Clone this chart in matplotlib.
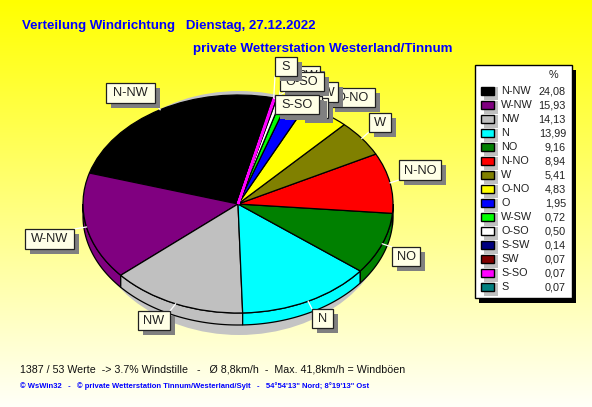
import numpy as np
import matplotlib
matplotlib.use('Agg')
import matplotlib.pyplot as plt
from matplotlib.colors import LinearSegmentedColormap
from matplotlib.patches import Ellipse, Rectangle
from matplotlib.transforms import Affine2D

W, H = 592, 407

# Data
directions = ['N-NW', 'W-NW', 'NW', 'N', 'NO', 'N-NO', 'W', 'O-NO', 'O', 'W-SW', 'O-SO', 'S-SW', 'SW', 'S-SO', 'S']
shares = [24.08, 15.93, 14.13, 13.99, 9.16, 8.94, 5.41, 4.83, 1.95, 0.72, 0.50, 0.14, 0.07, 0.07, 0.07]
share_labels = ['24,08', '15,93', '14,13', '13,99', '9,16', '8,94', '5,41', '4,83', '1,95', '0,72', '0,50', '0,14', '0,07', '0,07', '0,07']
colors = ['#000000', '#800080', '#C0C0C0', '#00FFFF', '#008000', '#FF0000', '#808000', '#FFFF00',
          '#0000FF', '#00FF00', '#FFFFFF', '#000080', '#800000', '#FF00FF', '#008080']

# Label boxes in pixels: left, top, right, bottom. Drawn in this order, later ones on top
label_boxes = {
    'N-NW': (106, 83, 155, 103),
    'W-NW': (25, 229, 74, 249),
    'NW': (138, 311, 170, 330),
    'N': (312, 309, 333, 328),
    'NO': (392, 247, 420, 266),
    'N-NO': (399, 160, 441, 180),
    'W': (369, 113, 391, 132),
    'O-NO': (330, 88, 375, 107),
    'W-SW': (296, 82, 338, 102),
    'O': (300, 98, 328, 118),
    'SW': (296, 66, 320, 85),
    'S-SW': (280, 96, 322, 115),
    'O-SO': (280, 72, 324, 91),
    'S-SO': (275, 95, 319, 114),
    'S': (275, 57, 297, 76),
}

cx, cy, rx, ry = 238, 407 - 204, 155, 109
depth = 12

plt.rcParams['font.family'] = ['Liberation Sans', 'DejaVu Sans']
fig = plt.figure(figsize=(W / 100, H / 100), dpi=100)
ax = fig.add_axes([0, 0, 1, 1])

# the pie call sets its own limits, so the pixel frame comes after it
wedges, _ = ax.pie(shares, colors=colors, startangle=76.8, counterclock=True,
                   wedgeprops={'edgecolor': 'black', 'linewidth': 0.9, 'zorder': 4})
ax.set_aspect('auto')
ax.axis('off')

# background gradient, strong yellow at the top to almost white at the bottom
cmap = LinearSegmentedColormap.from_list('bg', ['#FFFF00', '#FFFFF8'])
ax.imshow(np.linspace(0, 1, 256).reshape(-1, 1), cmap=cmap, extent=(0, W, 0, H), aspect='auto', zorder=0, origin='upper')
ax.set_xlim(0, W)
ax.set_ylim(0, H)

# grey shadow behind the pie
ax.add_patch(Ellipse((cx + 1, cy - 9), 2 * rx - 8, 2 * ry + 26, color='#C4C4C4', lw=0, zorder=1))

squash = Affine2D().scale(rx, ry).translate(cx, cy) + ax.transData
for wedge in wedges:
    wedge.set_transform(squash)
    wedge.set_center((0, 0))

    # side wall for the part of the slice on the front half
    for offset in (0, 360):
        a1, a2 = max(wedge.theta1 + offset, 180), min(wedge.theta2 + offset, 360)
        if a2 <= a1:
            continue
        t = np.radians(np.linspace(a1, a2, 80))
        xs = cx + rx * np.cos(t)
        ys = cy + ry * np.sin(t)
        ax.fill(np.r_[xs, xs[::-1]], np.r_[ys, ys[::-1] - depth], facecolor=wedge.get_facecolor(),
                edgecolor='black', linewidth=0.9, zorder=3)

# the sliver slices only show as a coloured line in the original
sliver = wedges[directions.index('S-SO')]
sliver.set_edgecolor('#FF00FF')
sliver.set_linewidth(1.8)
sliver.set_zorder(4.5)


def box(left, top, right, bottom, text, z):
    ax.add_patch(Rectangle((left + 5, H - bottom - 5), right - left, bottom - top, color='#808080', lw=0, zorder=z))
    ax.add_patch(Rectangle((left, H - bottom), right - left, bottom - top, facecolor='#FFFFE6',
                           edgecolor='#202020', linewidth=0.9, zorder=z + 0.1))
    ax.text((left + right) / 2, H - (top + bottom) / 2 - 0.5, text, ha='center', va='center',
            fontsize=9.2, color='#202020', zorder=z + 0.2)


# leader lines and labels
for i, name in enumerate(label_boxes):
    left, top, right, bottom = label_boxes[name]
    wedge = wedges[directions.index(name)]
    mid = np.radians((wedge.theta1 + wedge.theta2) / 2)
    px = cx + rx * np.cos(mid)
    py = cy + ry * np.sin(mid)
    bx = min(max(px, left), right)
    by = min(max(py, H - bottom), H - top)
    ax.plot([px, bx], [py, by], color='white', lw=0.9, zorder=5)
    box(left, top, right, bottom, name, 6 + i)

# legend
ax.add_patch(Rectangle((479, H - 303), 97, 233, color='black', lw=0, zorder=30))
ax.add_patch(Rectangle((474.5, H - 298), 97, 233, facecolor='white', edgecolor='black', linewidth=1, zorder=31))
ax.text(553, H - 75, '%', ha='center', va='center', fontsize=7.8, color='#202020', zorder=32)
for i, name in enumerate(directions):
    y = H - (91 + 14 * i)
    ax.add_patch(Rectangle((484, y - 9), 14, 13, color='#C0C0C0', lw=0, zorder=32))
    ax.add_patch(Rectangle((481, y - 4), 13, 8, facecolor=colors[i], edgecolor='black', linewidth=1, zorder=33))
    ax.text(501, y, name, ha='left', va='center', fontsize=7.8, color='#202020', zorder=33)
    ax.text(566, y, share_labels[i], ha='right', va='center', fontsize=7.8, color='#202020', zorder=33)

# titles
ax.text(22, H - 26, 'Verteilung Windrichtung   Dienstag, 27.12.2022', color='#0000FF', fontsize=9.5,
        fontweight='bold', ha='left', va='center', zorder=40)
ax.text(193, H - 49, 'private Wetterstation Westerland/Tinnum', color='#0000FF', fontsize=9.65,
        fontweight='bold', ha='left', va='center', zorder=40)
ax.text(20, H - 369, '1387 / 53 Werte  -> 3.7% Windstille   -   Ø 8,8km/h  -  Max. 41,8km/h = Windböen',
        color='#101010', fontsize=7.7, ha='left', va='center', zorder=40)
ax.text(20, H - 386, '© WsWin32   -   © private Wetterstation Tinnum/Westerland/Sylt   -   54°54\'13" Nord; 8°19\'13" Ost',
        color='#0000FF', fontsize=5.5, fontweight='bold', ha='left', va='center', zorder=40)

fig.savefig('out.png', dpi=100)
